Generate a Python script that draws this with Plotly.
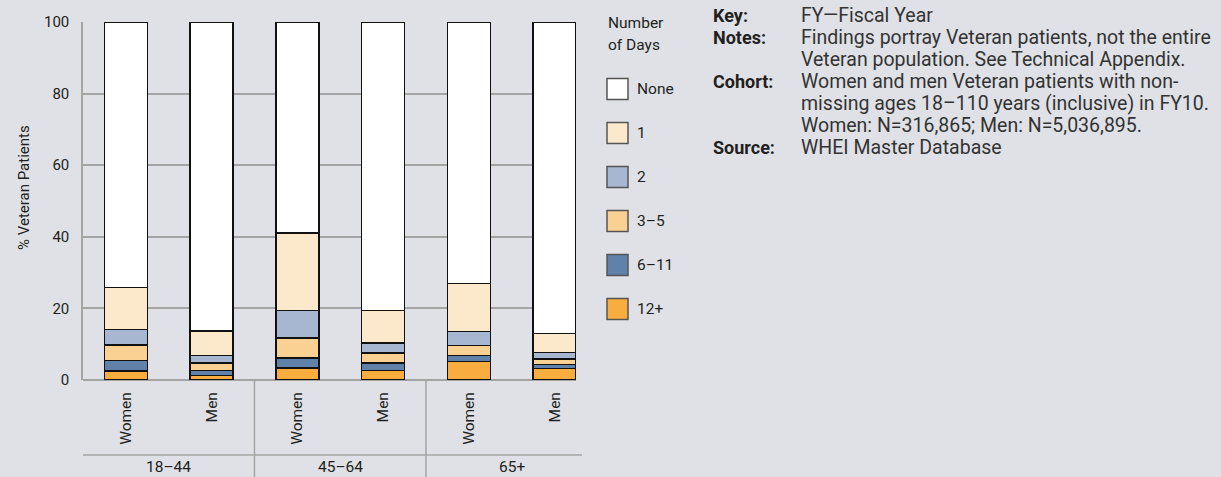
import plotly.graph_objects as go

# Categories
age_groups = ["18–44", "45–64", "65+"]
sexes = ["Women", "Men"]
bar_labels = [s for _ in age_groups for s in sexes]

# Share of Veteran patients (%) by number of days, bottom to top of each stack
series_names = ["12+", "6–11", "3–5", "2", "1", "None"]
days_12_plus = [2.5, 1.3, 3.4, 2.7, 5.2, 3.2]
days_6_11 = [2.9, 1.3, 2.7, 2.0, 1.6, 1.1]
days_3_5 = [4.4, 2.1, 5.7, 2.8, 2.9, 1.6]
days_2 = [4.3, 2.2, 7.6, 2.9, 3.9, 1.8]
days_1 = [11.7, 6.8, 21.7, 9.0, 13.3, 5.3]
days_none = [74.2, 86.3, 58.9, 80.6, 73.1, 87.0]
series_values = [days_12_plus, days_6_11, days_3_5, days_2, days_1, days_none]
series_colors = ["#f9ad3f", "#6081aa", "#fbd193", "#a8b7d1", "#fce8cb", "#ffffff"]

y_ticks = [0, 20, 40, 60, 80, 100]

legend_title = ["Number", "of Days"]

notes = [
    ("Key:", ["FY—Fiscal Year"]),
    ("Notes:", ["Findings portray Veteran patients, not the entire",
                "Veteran population. See Technical Appendix."]),
    ("Cohort:", ["Women and men Veteran patients with non-",
                 "missing ages 18–110 years (inclusive) in FY10.",
                 "Women: N=316,865; Men: N=5,036,895."]),
    ("Source:", ["WHEI Master Database"]),
]

BG = "#dfe1e6"
GRID = "#a4a4a4"
TXT = "#231f20"
CHART_FONT = "Roboto, sans-serif"
NOTE_FONT = "Roboto, sans-serif"

W, H = 1221, 477
ML, MR, MT, MB = 83, 645, 22, 97
PW, PH = W - ML - MR, H - MT - MB


def px_x(px):
    return (px - ML) / PW


def px_y(py):
    return (H - MB - py) / PH


xs = list(range(len(bar_labels)))

fig = go.Figure()
for name, vals, col in zip(series_names, series_values, series_colors):
    fig.add_trace(go.Bar(
        x=xs, y=vals, name=name, width=0.5,
        marker=dict(color=col, line=dict(color="#111111", width=1.5)),
        showlegend=False,
    ))

shapes = []
annotations = []

# group dividers and lower baseline under the sex labels
for d in [1.5, 3.5]:
    shapes.append(dict(type="line", xref="x", yref="paper", x0=d, x1=d,
                       y0=0, y1=px_y(H + 2), line=dict(color=GRID, width=1.5)))
shapes.append(dict(type="line", xref="paper", yref="paper",
                   x0=0, x1=px_x(582), y0=px_y(455), y1=px_y(455),
                   line=dict(color=GRID, width=1.5)))

for i, g in enumerate(age_groups):
    annotations.append(dict(x=2 * i + 0.5, xref="x", y=px_y(467), yref="paper",
                            text=g, showarrow=False, xanchor="center", yanchor="middle",
                            font=dict(family=CHART_FONT, size=15.5, color=TXT)))

# y axis title
annotations.append(dict(x=px_x(24), xref="paper", y=px_y(188), yref="paper",
                        text="% Veteran Patients", textangle=-90, showarrow=False,
                        xanchor="center", yanchor="middle",
                        font=dict(family=CHART_FONT, size=15, color=TXT)))

# legend
for k, t in enumerate(legend_title):
    annotations.append(dict(x=px_x(606), xref="paper", y=px_y(23 + 22 * k), yref="paper",
                            text=t, showarrow=False, xanchor="left", yanchor="middle",
                            font=dict(family=CHART_FONT, size=15.5, color=TXT)))
legend_rows = list(zip(series_names, series_colors))[::-1]
for k, (name, col) in enumerate(legend_rows):
    cy = 89 + k * 44
    shapes.append(dict(type="rect", xref="paper", yref="paper",
                       x0=px_x(607), x1=px_x(628), y0=px_y(cy - 10.5), y1=px_y(cy + 10.5),
                       fillcolor=col, line=dict(color="#555555", width=1.5)))
    annotations.append(dict(x=px_x(635), xref="paper", y=px_y(cy), yref="paper",
                            text=name, showarrow=False, xanchor="left", yanchor="middle",
                            font=dict(family=CHART_FONT, size=15.5, color=TXT)))

# notes block
line_y = 15
for label, lines in notes:
    annotations.append(dict(x=px_x(711), xref="paper", y=px_y(line_y), yref="paper",
                            text="<b>" + label + "</b>", showarrow=False,
                            xanchor="left", yanchor="middle",
                            font=dict(family=NOTE_FONT, size=18, color=TXT)))
    for ln in lines:
        annotations.append(dict(x=px_x(799), xref="paper", y=px_y(line_y), yref="paper",
                                text=ln, showarrow=False, xanchor="left", yanchor="middle",
                                font=dict(family=NOTE_FONT, size=19.5, color="#333333")))
        line_y += 22

fig.update_layout(
    width=W, height=H,
    margin=dict(l=ML, r=MR, t=MT, b=MB, pad=0),
    paper_bgcolor=BG, plot_bgcolor=BG,
    barmode="stack", bargap=0.5,
    shapes=shapes, annotations=annotations,
    font=dict(family=CHART_FONT, color=TXT),
    xaxis=dict(
        range=[-0.5, 5.25], tickmode="array", tickvals=xs, ticktext=bar_labels,
        tickangle=-90, ticks="", showgrid=False, zeroline=False,
        showline=False, ticklabelstandoff=8,
        tickfont=dict(family=CHART_FONT, size=15.5, color=TXT),
    ),
    yaxis=dict(
        range=[0, 100], tickmode="array", tickvals=y_ticks,
        showgrid=True, gridcolor=GRID, gridwidth=1.5,
        zeroline=True, zerolinecolor=GRID, zerolinewidth=1.5,
        showline=True, linecolor=GRID, linewidth=1.5,
        ticks="", ticklabelstandoff=9,
        tickfont=dict(family=CHART_FONT, size=15, color=TXT),
    ),
)

fig.write_html("out.html")
